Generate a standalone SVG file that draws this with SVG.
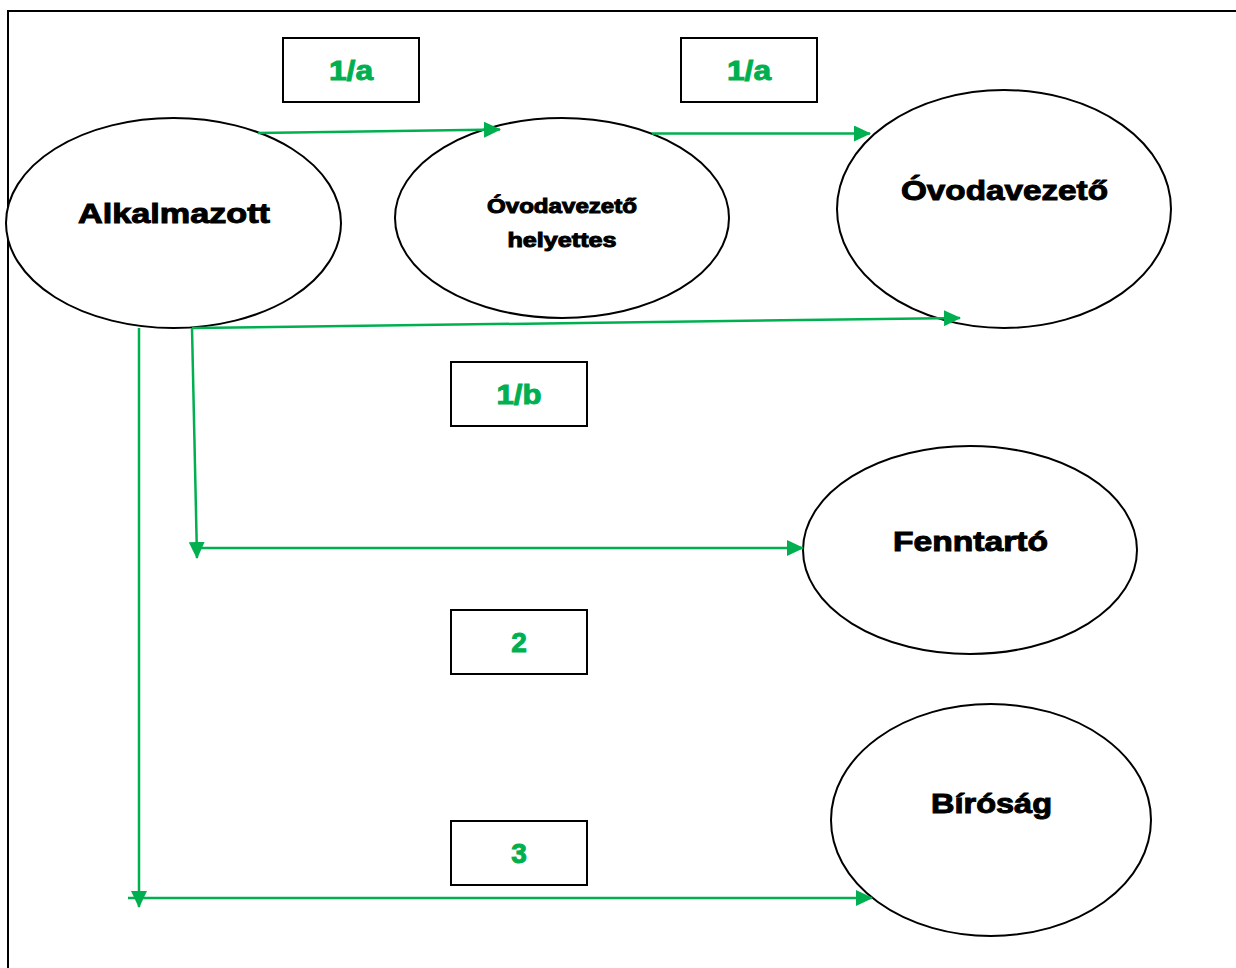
<svg xmlns="http://www.w3.org/2000/svg" width="1236" height="968" viewBox="0 0 1236 968">
<style>
.frame{fill:none;stroke:#000;stroke-width:2}
.node{fill:#fff;stroke:#000;stroke-width:2}
.lbl{fill:#fff;stroke:#000;stroke-width:2}
.t{font-family:"Liberation Sans",Arial,sans-serif;font-weight:bold;fill:#000;stroke:#000;stroke-width:1;text-anchor:middle}
.g{font-family:"Liberation Sans",Arial,sans-serif;font-weight:bold;fill:#00b050;stroke:#00b050;stroke-width:1;text-anchor:middle;font-size:28px}
.c{fill:none;stroke:#00b050;stroke-width:2.5}
</style>
<defs>
<marker id="ah" markerUnits="userSpaceOnUse" viewBox="0 0 17 16" markerWidth="17" markerHeight="16" refX="16" refY="8" orient="auto">
<path d="M0,0 L17,8 L0,16 Z" fill="#00b050"/>
</marker>
</defs>
<rect class="frame" x="8" y="11" width="1240" height="970"/>
<g id="node-alkalmazott">
<ellipse class="node" cx="173.5" cy="223" rx="167.5" ry="105"/>
<text class="t" x="174" y="223" font-size="28" textLength="192" lengthAdjust="spacingAndGlyphs">Alkalmazott</text>
</g>
<g id="node-helyettes">
<ellipse class="node" cx="562" cy="218" rx="167" ry="100"/>
<text class="t" x="562" y="213" font-size="20" stroke-width="0.7" textLength="150" lengthAdjust="spacingAndGlyphs">Óvodavezető</text>
<text class="t" x="562" y="247" font-size="20" stroke-width="0.7" textLength="109" lengthAdjust="spacingAndGlyphs">helyettes</text>
</g>
<g id="node-ovodavezeto">
<ellipse class="node" cx="1004" cy="209" rx="167" ry="119"/>
<text class="t" x="1004.5" y="200" font-size="28" textLength="207" lengthAdjust="spacingAndGlyphs">Óvodavezető</text>
</g>
<g id="node-fenntarto">
<ellipse class="node" cx="970" cy="550" rx="167" ry="104"/>
<text class="t" x="970.5" y="551" font-size="28" textLength="155" lengthAdjust="spacingAndGlyphs">Fenntartó</text>
</g>
<g id="node-birosag">
<ellipse class="node" cx="991" cy="820" rx="160" ry="116"/>
<text class="t" x="991.5" y="813" font-size="28" textLength="121" lengthAdjust="spacingAndGlyphs">Bíróság</text>
</g>
<g id="label-1a-1">
<rect class="lbl" x="283" y="38" width="136" height="64"/>
<text class="g" x="351" y="80" textLength="44" lengthAdjust="spacingAndGlyphs">1/a</text>
</g>
<g id="label-1a-2">
<rect class="lbl" x="681" y="38" width="136" height="64"/>
<text class="g" x="749" y="80" textLength="44" lengthAdjust="spacingAndGlyphs">1/a</text>
</g>
<g id="label-1b">
<rect class="lbl" x="451" y="362" width="136" height="64"/>
<text class="g" x="519" y="404" textLength="45" lengthAdjust="spacingAndGlyphs">1/b</text>
</g>
<g id="label-2">
<rect class="lbl" x="451" y="610" width="136" height="64"/>
<text class="g" x="519" y="652">2</text>
</g>
<g id="label-3">
<rect class="lbl" x="451" y="821" width="136" height="64"/>
<text class="g" x="519" y="863">3</text>
</g>
<g id="connectors">
<path class="c" d="M258,133 L500,129.5" marker-end="url(#ah)"/>
<path class="c" d="M652,133.5 L870,133.5" marker-end="url(#ah)"/>
<path class="c" d="M192,328 L960,318" marker-end="url(#ah)"/>
<path class="c" d="M192,328 L197,558" marker-end="url(#ah)"/>
<path class="c" d="M197,548 L803,548" marker-end="url(#ah)"/>
<path class="c" d="M139,328 L139,907" marker-end="url(#ah)"/>
<path class="c" d="M128,898 L872,898" marker-end="url(#ah)"/>
</g>
</svg>
